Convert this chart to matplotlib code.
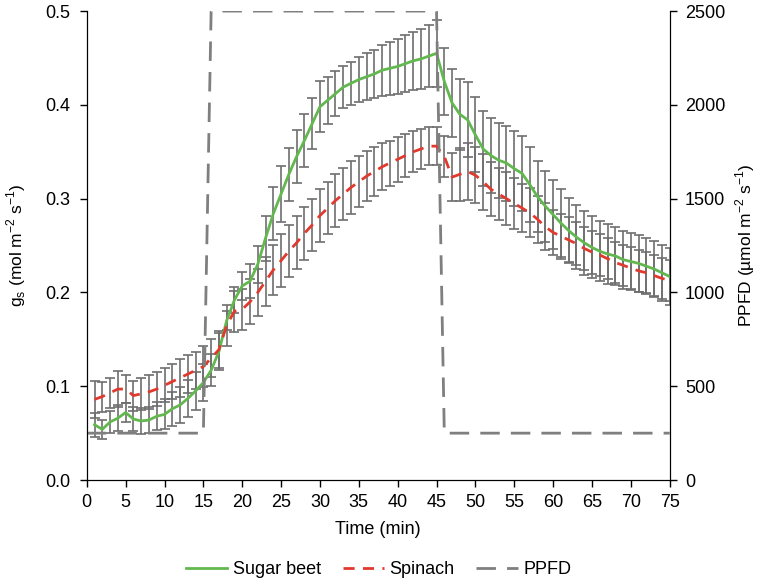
import numpy as np
import matplotlib.pyplot as plt

plt.rcParams['font.family'] = ['Liberation Sans', 'DejaVu Sans']

# time axis (min) for gs measurements
time = np.arange(1, 76)

# stomatal conductance, sugar beet
beet = [0.059, 0.054, 0.062, 0.066, 0.072, 0.065, 0.063, 0.064, 0.068, 0.070,
        0.076, 0.080, 0.087, 0.095, 0.104, 0.117, 0.137, 0.170, 0.192, 0.207,
        0.212, 0.230, 0.258, 0.284, 0.305, 0.326, 0.345, 0.362, 0.380, 0.398,
        0.405, 0.412, 0.419, 0.423, 0.427, 0.430, 0.433, 0.437, 0.439, 0.441,
        0.444, 0.447, 0.449, 0.452, 0.455, 0.425, 0.402, 0.390, 0.384, 0.368,
        0.353, 0.346, 0.341, 0.338, 0.332, 0.327, 0.315, 0.302, 0.292, 0.283,
        0.274, 0.266, 0.259, 0.253, 0.248, 0.244, 0.241, 0.239, 0.235, 0.233,
        0.231, 0.228, 0.225, 0.221, 0.217]
beet_err = [0.013, 0.010, 0.012, 0.014, 0.010, 0.013, 0.014, 0.014, 0.015, 0.016,
            0.018, 0.019, 0.020, 0.020, 0.020, 0.017, 0.020, 0.010, 0.014, 0.015,
            0.018, 0.020, 0.024, 0.028, 0.030, 0.028, 0.028, 0.028, 0.027, 0.027,
            0.025, 0.024, 0.022, 0.023, 0.024, 0.025, 0.026, 0.027, 0.028, 0.029,
            0.030, 0.031, 0.032, 0.033, 0.036, 0.036, 0.036, 0.038, 0.040, 0.040,
            0.040, 0.040, 0.040, 0.040, 0.040, 0.040, 0.040, 0.038, 0.038, 0.037,
            0.036, 0.035, 0.034, 0.034, 0.033, 0.032, 0.032, 0.031, 0.031, 0.030,
            0.030, 0.030, 0.030, 0.030, 0.030]

# stomatal conductance, spinach
spinach = [0.086, 0.089, 0.093, 0.097, 0.097, 0.090, 0.092, 0.094, 0.097, 0.101,
           0.105, 0.109, 0.113, 0.117, 0.121, 0.130, 0.139, 0.165, 0.180, 0.182,
           0.190, 0.200, 0.212, 0.224, 0.234, 0.244, 0.253, 0.263, 0.272, 0.282,
           0.290, 0.298, 0.305, 0.312, 0.318, 0.324, 0.329, 0.334, 0.338, 0.342,
           0.346, 0.350, 0.353, 0.356, 0.356, 0.345, 0.323, 0.326, 0.329, 0.325,
           0.318, 0.310, 0.305, 0.300, 0.295, 0.290, 0.285, 0.278, 0.270, 0.264,
           0.260, 0.256, 0.252, 0.247, 0.243, 0.240, 0.236, 0.232, 0.229, 0.226,
           0.223, 0.221, 0.218, 0.215, 0.213]
spinach_err = [0.020, 0.016, 0.016, 0.019, 0.015, 0.016, 0.017, 0.018, 0.018, 0.018,
               0.019, 0.020, 0.020, 0.020, 0.022, 0.020, 0.020, 0.022, 0.022, 0.022,
               0.024, 0.025, 0.026, 0.027, 0.028, 0.028, 0.028, 0.028, 0.028, 0.028,
               0.028, 0.028, 0.028, 0.028, 0.027, 0.027, 0.026, 0.025, 0.024, 0.024,
               0.023, 0.022, 0.021, 0.020, 0.020, 0.022, 0.026, 0.028, 0.030, 0.030,
               0.030, 0.029, 0.028, 0.028, 0.027, 0.026, 0.026, 0.025, 0.025, 0.024,
               0.024, 0.024, 0.023, 0.023, 0.023, 0.022, 0.022, 0.022, 0.022, 0.022,
               0.022, 0.022, 0.022, 0.022, 0.022]

# light level
ppfd_time = np.arange(0, 76)
ppfd = [250] * 16 + [2500] * 30 + [250] * 30

fig = plt.figure(figsize=(7.68, 5.84), dpi=100)
ax = fig.add_axes([0.113, 0.178, 0.759, 0.803])
ax2 = ax.twinx()

err_kw = dict(fmt='none', ecolor='#6e6e6e', elinewidth=1.2, capsize=3.5, capthick=1.2)
ax.errorbar(time, beet, yerr=beet_err, **err_kw)
ax.errorbar(time, spinach, yerr=spinach_err, **err_kw)
l1, = ax.plot(time, beet, color='#62b84e', lw=2, label='Sugar beet')
l2, = ax.plot(time, spinach, color='#e03a2e', lw=2, dashes=(4, 3), label='Spinach')
l3, = ax2.plot(ppfd_time, ppfd, color='#7f7f7f', lw=2, dashes=(7, 4), label='PPFD')

ax.set_xlim(0, 75)
ax.set_ylim(0, 0.5)
ax2.set_ylim(0, 2500)
ax.set_xticks(np.arange(0, 76, 5))
ax.set_yticks(np.arange(0, 0.51, 0.1))
ax.set_yticklabels([f'{v:.1f}' for v in np.arange(0, 0.51, 0.1)])
ax2.set_yticks(np.arange(0, 2501, 500))

for a in (ax, ax2):
    a.spines['top'].set_visible(False)
    a.tick_params(labelsize=13, length=5, width=1)
ax.tick_params(axis='y', pad=7)
ax.tick_params(axis='x', pad=5)
ax2.tick_params(axis='y', pad=6)
ax.set_xlabel('Time (min)', fontsize=13, labelpad=7)
ax.set_ylabel('g$_\\mathregular{s}$ (mol m$^{\\mathregular{-2}}$ s$^{\\mathregular{-1}}$)',
              fontsize=12.5, labelpad=12)
ax2.set_ylabel('PPFD (µmol m$^{\\mathregular{-2}}$ s$^{\\mathregular{-1}}$)', fontsize=12.5, labelpad=6)

fig.legend(handles=[l1, l2, l3], loc='center', bbox_to_anchor=(0.493, 0.025),
           ncol=3, frameon=False, fontsize=13, handlelength=2.3, columnspacing=1.2,
           handletextpad=0.3)

fig.savefig('out.png', dpi=100)
